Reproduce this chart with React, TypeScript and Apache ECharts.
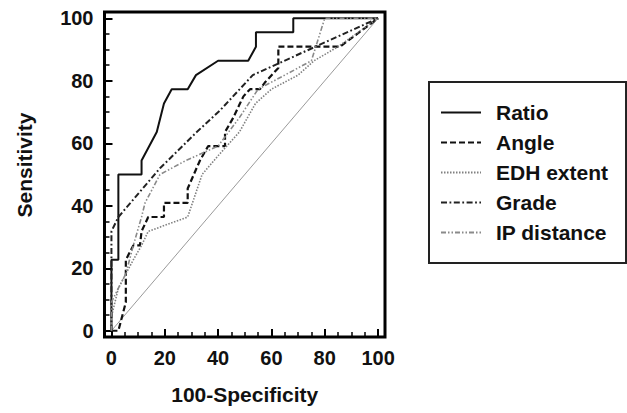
import React, { useEffect, useRef } from "react";
import * as echarts from "echarts";

const seriesNames = ["Ratio", "Angle", "EDH extent", "Grade", "IP distance"];

const majorTicks = [0, 20, 40, 60, 80, 100];
const minorTicks = [5, 10, 15, 25, 30, 35, 45, 50, 55, 65, 70, 75, 85, 90, 95];

const ratioX = [0, 0, 2.6, 2.6, 11.3, 11.3, 17, 19.7, 22.6, 28.6, 31.7, 40, 51.3, 54.2, 54.2, 68.2, 68.2, 100];
const ratioY = [0, 22.7, 22.7, 50, 50, 54.5, 63.6, 72.7, 77.3, 77.3, 81.8, 86.4, 86.4, 90.9, 95.5, 95.5, 100, 100];

const angleX = [0, 2.6, 5.4, 5.4, 8.2, 10.7, 11.3, 13.8, 19.7, 19.7, 28.6, 28.6, 33.2, 36.3, 42.6, 42.6, 45.7, 48.2, 49.5, 52, 55.7, 57.6, 62.6, 62.6, 85.7, 100];
const angleY = [0, 0, 9.1, 22.7, 27.3, 27.3, 31.8, 36.4, 36.4, 40.9, 40.9, 45.5, 54.5, 59.1, 59.1, 63.6, 68.2, 72.7, 75, 77.3, 77.3, 79.5, 84.1, 90.9, 90.9, 100];

const edhX = [0, 0, 2.6, 5.4, 8.2, 11.3, 13.8, 28.6, 34, 40, 48, 54, 60, 70, 76, 85, 100];
const edhY = [0, 4.5, 13.6, 18.2, 22.7, 27.3, 31.8, 36.4, 50, 56, 63.6, 72.7, 77.3, 81.8, 86.4, 90.9, 100];

const gradeX = [0, 0, 2.6, 18.2, 32, 40.7, 53, 100];
const gradeY = [0, 31.8, 36.4, 52, 63.6, 70.5, 81.8, 100];

const ipX = [0, 0, 2.6, 5.4, 8.2, 11.3, 12.6, 18.2, 28, 40, 48, 55, 65, 75, 80, 100];
const ipY = [0, 9.1, 13.6, 18.2, 27.3, 36.4, 40.9, 50, 54.5, 59.1, 68.2, 77.3, 81.8, 86.4, 100, 100];

const diagX = [0, 100];
const diagY = [0, 100];

const pairs = (xs: number[], ys: number[]) => xs.map((x, i) => [x, ys[i]]);

export default function App() {
  const ref = useRef<HTMLDivElement>(null);
  useEffect(() => {
    if (!ref.current) return;
    const chart = echarts.init(ref.current, null, { renderer: "svg" });
    const font = "'Liberation Sans', Arial, sans-serif";
    const txt = { fontFamily: font, fontWeight: "bold" as const, fontSize: 20, color: "#111" };
    const mkLine = (name: string, xs: number[], ys: number[], color: string, width: number, type: any) => ({
      name,
      type: "line",
      xAxisIndex: 0,
      yAxisIndex: 0,
      data: pairs(xs, ys),
      showSymbol: false,
      symbol: "circle",
      lineStyle: { color, width, type },
      itemStyle: { color },
      emphasis: { disabled: true },
    });
    const xMin = -2.6, xMax = 102.6, yMin = -2, yMax = 102;
    const majorAxis = (extra: any) => ({
      type: "value",
      axisLine: { show: false, onZero: false },
      axisTick: { show: true, inside: true, length: 8, customValues: majorTicks, lineStyle: { color: "#000", width: 2 } },
      axisLabel: { ...txt, margin: 11, customValues: majorTicks },
      splitLine: { show: false },
      ...extra,
    });
    const minorAxis = (extra: any) => ({
      type: "value",
      axisLine: { show: false, onZero: false },
      axisTick: { show: true, inside: true, length: 5, customValues: minorTicks, lineStyle: { color: "#000", width: 1.5 } },
      axisLabel: { show: false },
      splitLine: { show: false },
      ...extra,
    });
    chart.setOption({
      animation: false,
      backgroundColor: "#fff",
      grid: { left: 104.5, right: 242, top: 12, bottom: 76, show: true, borderColor: "#000", borderWidth: 3, backgroundColor: "transparent" },
      xAxis: [
        majorAxis({
          min: xMin,
          max: xMax,
          position: "bottom",
          name: "100-Specificity",
          nameLocation: "middle",
          nameGap: 47,
          nameTextStyle: { ...txt, fontSize: 21 },
        }),
        minorAxis({ min: xMin, max: xMax, position: "bottom" }),
      ],
      yAxis: [
        majorAxis({ min: yMin, max: yMax, position: "left" }),
        minorAxis({ min: yMin, max: yMax, position: "left" }),
      ],
      legend: {
        data: seriesNames,
        orient: "vertical",
        left: 429,
        top: 82,
        padding: [20, 18, 20, 11],
        itemWidth: 40,
        itemHeight: 14,
        itemGap: 9,
        borderColor: "#222",
        borderWidth: 2,
        selectedMode: false,
        itemStyle: { opacity: 0 },
        textStyle: { ...txt, fontSize: 21, padding: [0, 0, 0, 10] },
      },
      graphic: [
        {
          type: "text",
          x: 24,
          y: 165,
          rotation: Math.PI / 2,
          style: {
            text: "Sensitivity",
            fontFamily: font,
            fontWeight: "bold",
            fontSize: 21,
            fill: "#111",
            align: "center",
            verticalAlign: "middle",
          },
          silent: true,
        },
      ],
      series: [
        {
          name: "diagonal",
          type: "line",
          data: pairs(diagX, diagY),
          showSymbol: false,
          lineStyle: { color: "#9a9a9a", width: 1 },
          emphasis: { disabled: true },
        },
        mkLine("Ratio", ratioX, ratioY, "#111", 2, "solid"),
        mkLine("Angle", angleX, angleY, "#111", 2.2, [6, 3]),
        mkLine("EDH extent", edhX, edhY, "#808080", 1.6, [1.5, 1.5]),
        mkLine("Grade", gradeX, gradeY, "#222", 2, [6, 2.5, 1.8, 2.5]),
        mkLine("IP distance", ipX, ipY, "#8a8a8a", 1.6, [5, 2, 1.5, 2, 1.5, 2]),
      ],
    });
    return () => chart.dispose();
  }, []);
  return <div ref={ref} style={{ position: "fixed", left: 0, top: 0, width: 627, height: 413 }} />;
}
